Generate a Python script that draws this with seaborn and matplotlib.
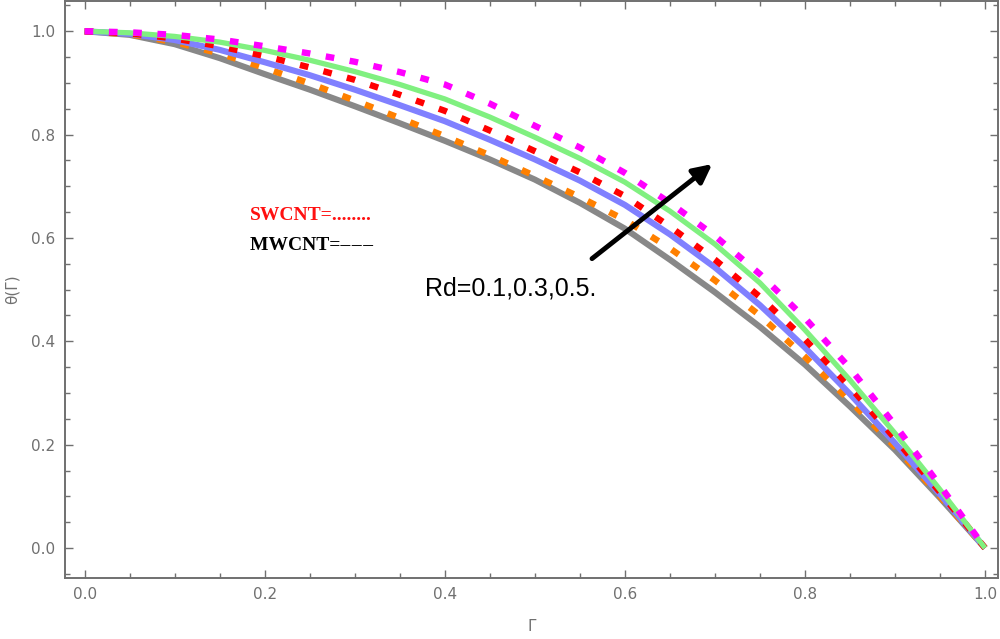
import numpy as np
import pandas as pd
import matplotlib
matplotlib.use("Agg")
import matplotlib.pyplot as plt
from matplotlib.ticker import MultipleLocator
import seaborn as sns

# values
gamma = [0.0, 0.05, 0.1, 0.15, 0.2, 0.25, 0.3, 0.35, 0.4, 0.45, 0.5,
         0.55, 0.6, 0.65, 0.7, 0.75, 0.8, 0.85, 0.9, 0.95, 1.0]
theta_gray = [1.0, 0.993, 0.975, 0.948, 0.917, 0.887, 0.855, 0.822, 0.788, 0.752, 0.713,
              0.668, 0.618, 0.558, 0.495, 0.428, 0.355, 0.274, 0.190, 0.097, 0.0]
theta_orange = [1.0, 0.994, 0.979, 0.957, 0.929, 0.899, 0.866, 0.832, 0.797, 0.760, 0.720,
                0.679, 0.635, 0.580, 0.518, 0.450, 0.370, 0.285, 0.196, 0.100, 0.0]
theta_blue = [1.0, 0.995, 0.983, 0.964, 0.940, 0.915, 0.887, 0.857, 0.826, 0.790, 0.752,
              0.711, 0.664, 0.607, 0.543, 0.470, 0.388, 0.298, 0.203, 0.104, 0.0]
theta_red = [1.0, 0.996, 0.986, 0.971, 0.952, 0.930, 0.906, 0.877, 0.846, 0.808, 0.768,
             0.727, 0.681, 0.622, 0.558, 0.486, 0.404, 0.312, 0.212, 0.108, 0.0]
theta_green = [1.0, 0.997, 0.990, 0.979, 0.963, 0.944, 0.922, 0.897, 0.869, 0.834, 0.795,
               0.754, 0.708, 0.652, 0.588, 0.513, 0.422, 0.325, 0.222, 0.113, 0.0]
theta_magenta = [1.0, 0.998, 0.993, 0.984, 0.971, 0.957, 0.941, 0.921, 0.897, 0.860, 0.817,
                 0.775, 0.726, 0.668, 0.604, 0.530, 0.445, 0.348, 0.238, 0.121, 0.0]

xticks = [0.0, 0.2, 0.4, 0.6, 0.8, 1.0]
yticks = [0.0, 0.2, 0.4, 0.6, 0.8, 1.0]

sns.set_style("ticks")
plt.rcParams["font.family"] = ["DejaVu Sans"]

fig = plt.figure(figsize=(10, 6.39), dpi=100)
ax = fig.add_axes([0.065, 0.096, 0.933, 0.902])

dot = (0, (1.35, 2.45))
curves = [
    (theta_gray, "#888888", "-", 4.4),
    (theta_orange, "#ff8000", dot, 4.6),
    (theta_blue, "#8080ff", "-", 4.4),
    (theta_red, "#ff0000", dot, 4.6),
    (theta_green, "#80f080", "-", 3.8),
    (theta_magenta, "#ff00ff", dot, 4.6),
]
for vals, col, ls, lw in curves:
    df = pd.DataFrame({"g": gamma, "t": vals})
    sns.lineplot(data=df, x="g", y="t", ax=ax, color=col, linestyle=ls,
                 linewidth=lw, solid_capstyle="butt", dash_capstyle="butt")

ax.set_xlim(-0.0218, 1.0144)
ax.set_ylim(-0.0573, 1.058)
ax.set_xticks(xticks)
ax.set_yticks(yticks)
ax.set_xticklabels([f"{v:.1f}" for v in xticks])
ax.set_yticklabels([f"{v:.1f}" for v in yticks])
ax.xaxis.set_minor_locator(MultipleLocator(0.05))
ax.yaxis.set_minor_locator(MultipleLocator(0.05))
ax.tick_params(which="both", direction="in", top=True, right=True,
               color="#707070", width=1.0, labelcolor="#707070", labelsize=11)
ax.tick_params(which="major", length=6, pad=7)
ax.tick_params(which="minor", length=3.5)
for sp in ax.spines.values():
    sp.set_color("#707070")
    sp.set_linewidth(1.4)

ax.set_xlabel("Γ", color="#707070", fontsize=11, labelpad=12)
ax.set_ylabel("θ(Γ)", color="#707070", fontsize=11, labelpad=8)

ax.text(0.184, 0.643, "SWCNT=........", color="#ff1010", fontsize=14,
        fontweight="bold", family="Liberation Serif", va="center", ha="left")
ax.text(0.184, 0.585, "MWCNT=\u2013\u200a\u2013\u200a\u2013", color="black", fontsize=14,
        fontweight="bold", family="Liberation Serif", va="center", ha="left")
ax.text(0.378, 0.502, "Rd=0.1,0.3,0.5.", color="black", fontsize=18,
        family="Liberation Sans", va="center", ha="left")

ax.annotate("", xy=(0.697, 0.743), xytext=(0.5635, 0.560),
            arrowprops=dict(arrowstyle="-|>", color="black", lw=3.5,
                            mutation_scale=28, shrinkA=0, shrinkB=0))

fig.savefig("out.png", dpi=100)
